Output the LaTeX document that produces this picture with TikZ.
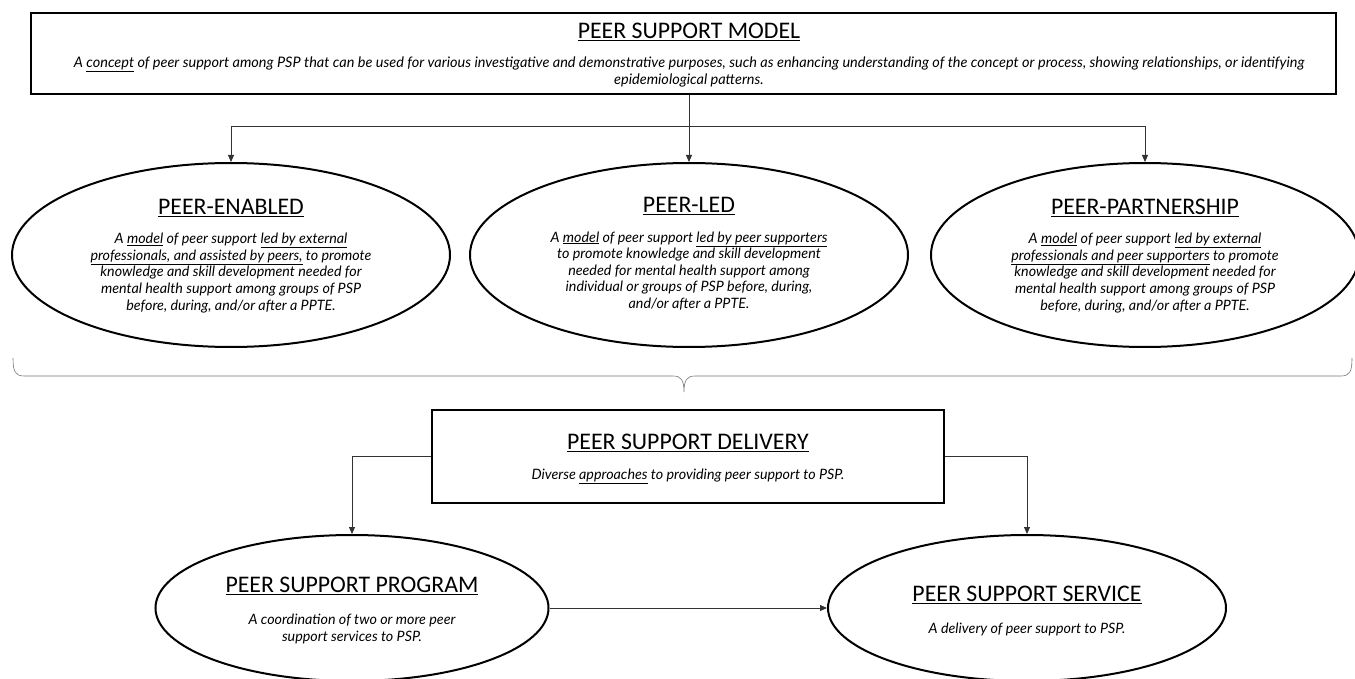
\documentclass[tikz,border=0pt]{standalone}
\usepackage{fontspec}
\setmainfont{Lato}
\newfontfamily\titlefont{Carlito}
\usetikzlibrary{shapes.geometric,arrows.meta}
\tikzset{
  bigbox/.style={draw,line width=2.6pt,inner sep=0pt},
  ell/.style={draw,ellipse,line width=2pt,inner sep=0pt},
  ttl/.style={font=\titlefont\fontsize{23.8}{27}\selectfont},
  body/.style={align=center,font=\fontsize{14.3}{16.6}\selectfont\itshape},
  conn/.style={line width=0.8pt,draw=black!80},
  arr/.style={conn,-{Triangle[width=6pt,length=7pt]}},
}
\begin{document}
\begin{tikzpicture}[x=1pt,y=-1pt]
\useasboundingbox (0,0) rectangle (1355,679);
% top box
\node[bigbox,minimum width=1305pt,minimum height=81pt] (model) at (683.5,53.5) {};
\node[ttl] (modelT) at (689,32) {\underline{PEER SUPPORT MODEL}};
\node[body,font=\fontsize{14.5}{17}\selectfont\itshape] (modelD) at (689,72) {A \underline{concept} of peer support among PSP that can be used for various investigative and demonstrative purposes, such as enhancing understanding of the concept or process, showing relationships, or identifying\\ epidemiological patterns.};
% ellipses row
\node[ell,minimum width=438pt,minimum height=184pt] (pe) at (231,255) {};
\node[ell,minimum width=438pt,minimum height=184pt] (pl) at (689,255) {};
\node[ell,minimum width=428pt,minimum height=184pt] (pp) at (1145,255) {};
\node[ttl] at (231,208) {\underline{PEER-ENABLED}};
\node[body] at (231,273) {A \underline{model} of peer support \underline{led by external}\\ \underline{professionals, and assisted by peers,} to promote\\ knowledge and skill development needed for\\ mental health support among groups of PSP\\ before, during, and/or after a PPTE.};
\node[ttl] at (689,206) {\underline{PEER-LED}};
\node[body] at (689,271) {A \underline{model} of peer support \underline{led by peer supporters}\\ to promote knowledge and skill development\\ needed for mental health support among\\ individual or groups of PSP before, during,\\ and/or after a PPTE.};
\node[ttl] at (1145,208) {\underline{PEER-PARTNERSHIP}};
\node[body] at (1145,273) {A \underline{model} of peer support \underline{led by external}\\ \underline{professionals and peer supporters} to promote\\ knowledge and skill development needed for\\ mental health support among groups of PSP\\ before, during, and/or after a PPTE.};
% connectors top
\coordinate (split) at (689,126);
\draw[arr] (model.south -| pl) -- (pl.north);
\draw[arr] (split) -- (split -| pe) -- (pe.north);
\draw[arr] (split) -- (split -| pp) -- (pp.north);
% brace
\draw[line width=0.6pt,draw=black!55] (13,358) .. controls (13,371) and (15,376) .. (24,376) -- (673,376) .. controls (681,376) and (684,380) .. (684,392) .. controls (684,380) and (687,376) .. (695,376) -- (1341,376) .. controls (1350,376) and (1352,371) .. (1352,358);
% delivery box
\node[bigbox,minimum width=512pt,minimum height=93pt] (del) at (688,456.5) {};
\node[ttl] at (688,443) {\underline{PEER SUPPORT DELIVERY}};
\node[body] at (688,476) {Diverse \underline{approaches} to providing peer support to PSP.};
% bottom ellipses
\node[ell,minimum width=393pt,minimum height=146pt] (prog) at (352,608) {};
\node[ell,minimum width=398pt,minimum height=146pt] (serv) at (1027,608) {};
\node[ttl] at (352,586) {\underline{PEER SUPPORT PROGRAM}};
\node[body] at (352,629) {A coordination of two or more peer\\ support services to PSP.};
\node[ttl] at (1027,595) {\underline{PEER SUPPORT SERVICE}};
\node[body] at (1027,629) {A delivery of peer support to PSP.};
\draw[arr] (del.west) -- (del.west -| prog) -- (prog.north);
\draw[arr] (del.east) -- (del.east -| serv) -- (serv.north);
\draw[arr] (prog.east) -- (serv.west);
\end{tikzpicture}
\end{document}
